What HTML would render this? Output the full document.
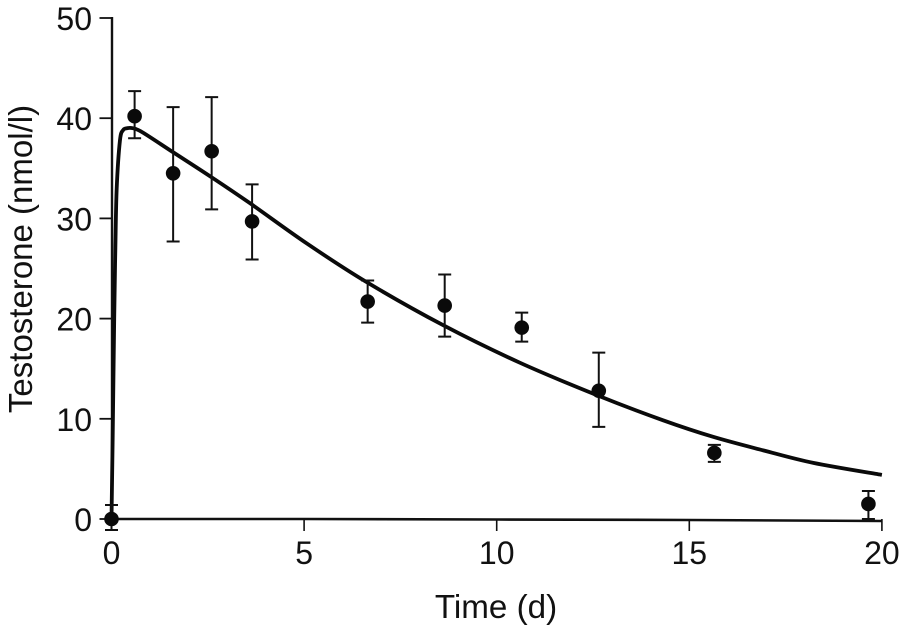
<!DOCTYPE html>
<html>
<head>
<meta charset="utf-8">
<title>Testosterone over time</title>
<style>
html,body{margin:0;padding:0;background:#fff}
svg{display:block}
text{font-family:"Liberation Sans",Arial,sans-serif;fill:#111}
</style>
</head>
<body>
<svg id="chart" xmlns="http://www.w3.org/2000/svg" width="906" height="630" viewBox="0 0 906 630"></svg>
<script>
const xTicks = [0, 5, 10, 15, 20];
const yTicks = [0, 10, 20, 30, 40, 50];
const times = [0, 0.6, 1.6, 2.6, 3.65, 6.65, 8.65, 10.65, 12.65, 15.65, 19.65];
const means = [0, 40.2, 34.5, 36.7, 29.7, 21.7, 21.3, 19.1, 12.8, 6.6, 1.5];
const upper = [1.4, 42.7, 41.1, 42.1, 33.4, 23.8, 24.4, 20.6, 16.6, 7.4, 2.8];
const lower = [-1.1, 38.0, 27.7, 30.9, 25.9, 19.6, 18.2, 17.7, 9.2, 5.7, 0];
const curveT = [0, 0.03, 0.07, 0.1, 0.135, 0.22, 0.3, 0.4, 0.55, 0.8, 1.6, 2.6, 3.6, 5.07, 6.62, 8.63, 10.6, 12.64, 14.32, 15.62, 16.92, 18.22, 20];
const curveV = [0, 8, 20, 27, 33, 37.8, 38.8, 39, 39, 38.6, 36.6, 34.1, 31.5, 27.5, 23.65, 19.3, 15.6, 12.3, 9.85, 8.2, 6.85, 5.6, 4.4];
const baseT = [0, 5, 10, 15, 20];
const baseV = [0, 0, -0.05, -0.1, -0.2];

const NS = 'http://www.w3.org/2000/svg';
const svg = document.getElementById('chart');
const xPx = function (v) { return 111.5 + v * 38.52; };
const yPx = function (v) { return 519 - v * 10.02; };

function make(tag, attrs, parent) {
  const el = document.createElementNS(NS, tag);
  for (const k in attrs) el.setAttribute(k, attrs[k]);
  (parent || svg).appendChild(el);
  return el;
}
function pts(ts, vs) {
  return ts.map(function (t, i) { return xPx(t).toFixed(2) + ',' + yPx(vs[i]).toFixed(2); }).join(' ');
}
function smoothPath(ts, vs) {
  const p = ts.map(function (t, i) { return [xPx(t), yPx(vs[i])]; });
  let d = 'M' + p[0][0].toFixed(2) + ' ' + p[0][1].toFixed(2);
  for (let i = 0; i < p.length - 1; i++) {
    const a = p[Math.max(i - 1, 0)], b = p[i], c = p[i + 1], e = p[Math.min(i + 2, p.length - 1)];
    d += 'C' + (b[0] + (c[0] - a[0]) / 6).toFixed(2) + ' ' + (b[1] + (c[1] - a[1]) / 6).toFixed(2) + ' ' +
         (c[0] - (e[0] - b[0]) / 6).toFixed(2) + ' ' + (c[1] - (e[1] - b[1]) / 6).toFixed(2) + ' ' +
         c[0].toFixed(2) + ' ' + c[1].toFixed(2);
  }
  return d;
}

const yAxis = make('line', {x1: xPx(0) + 0.5, x2: xPx(0) + 0.5, y1: yPx(50) - 1, y2: yPx(0), stroke: '#111', 'stroke-width': 2.4});



yTicks.forEach(function (v) {
  const tick = make('line', {x1: xPx(0) - 12, x2: xPx(0), y1: yPx(v), y2: yPx(v), stroke: '#111', 'stroke-width': 1.8});
  
  
  const label = make('text', {x: 92, y: yPx(v) + 12, 'text-anchor': 'end', 'font-size': 32});
  label.textContent = v;
  
  
});

xTicks.forEach(function (v) {
  const tick = make('line', {x1: xPx(v), x2: xPx(v), y1: yPx(0), y2: yPx(0) + 12, stroke: '#111', 'stroke-width': 1.6});
  
  
  const label = make('text', {x: xPx(v), y: 564, 'text-anchor': 'middle', 'font-size': 32});
  label.textContent = v;
  
  
});

const xAxisLine = make('polyline', {points: pts(baseT, baseV), fill: 'none', stroke: '#111', 'stroke-width': 2.6});



const curve = make('path', {d: smoothPath(curveT, curveV), fill: 'none', stroke: '#0a0a0a', 'stroke-width': 3.8, 'stroke-linejoin': 'round'});



times.forEach(function (t, i) {
  const cx = xPx(t);
  const bar = make('path', {
    d: 'M' + (cx - 6.5) + ' ' + yPx(upper[i]) + 'H' + (cx + 6.5) +
       'M' + cx + ' ' + yPx(upper[i]) + 'V' + yPx(lower[i]) +
       'M' + (cx - 6.5) + ' ' + yPx(lower[i]) + 'H' + (cx + 6.5),
    fill: 'none', stroke: '#111', 'stroke-width': 2
  });
  
  
  const dot = make('circle', {cx: cx, cy: yPx(means[i]), r: 7.3, fill: '#0a0a0a'});
  
  
});

const xTitle = make('text', {x: 496, y: 618, 'text-anchor': 'middle', 'font-size': 33.2});
xTitle.textContent = 'Time (d)';



const yTitle = make('text', {x: 0, y: 0, 'text-anchor': 'middle', 'font-size': 33, transform: 'translate(32,259) rotate(-90)'});
yTitle.textContent = 'Testosterone (nmol/l)';


</script>
</body>
</html>
